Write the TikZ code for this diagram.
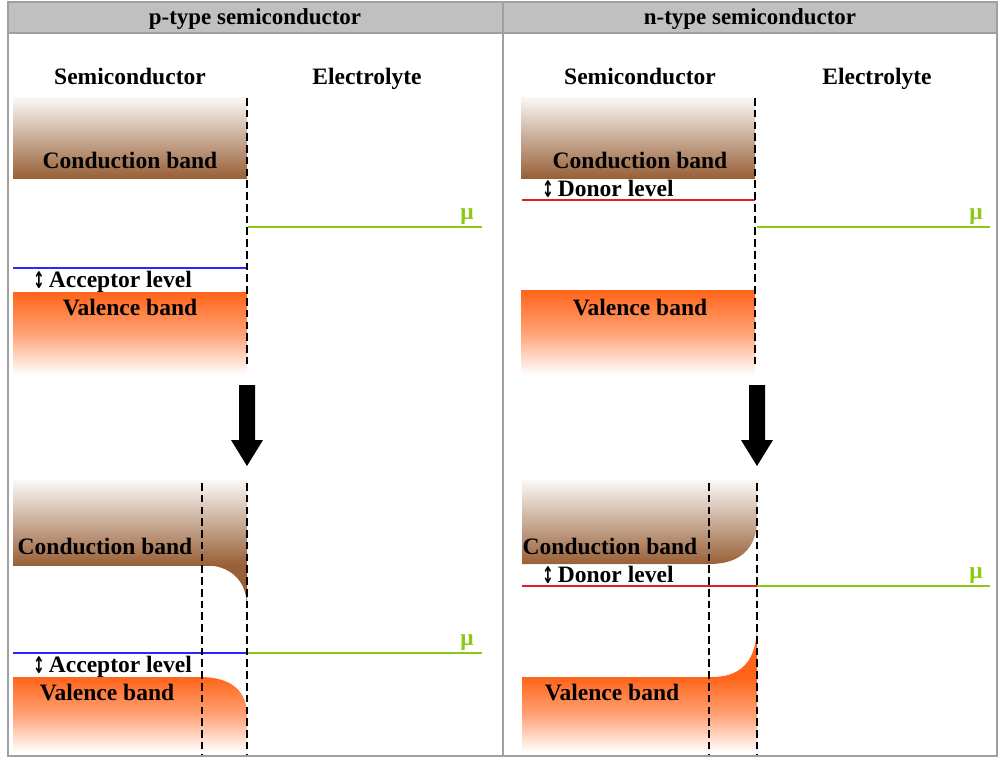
\documentclass[tikz,border=0pt]{standalone}
\usepackage{fontspec}
\usepackage{graphicx}
\setmainfont{Liberation Serif}
\newfontfamily\dejavu{DejaVu Sans}
\usetikzlibrary{arrows.meta}
\definecolor{cbrown}{RGB}{152,96,55}
\definecolor{ctop}{RGB}{250,248,247}
\definecolor{vorange}{RGB}{255,100,25}
\definecolor{mugreen}{RGB}{140,200,20}
\definecolor{accblue}{RGB}{40,40,255}
\definecolor{donred}{RGB}{225,30,40}
\definecolor{framegray}{RGB}{160,160,160}
\definecolor{headgray}{RGB}{192,192,192}
\newcommand\updown{\raisebox{-1.5pt}{\scalebox{0.7}[1.15]{\dejavu\bfseries\fontsize{17}{17}\selectfont↕}}\,}
\tikzset{
  lbl/.style={font=\bfseries\fontsize{20}{22}\selectfont, inner sep=0pt},
  hdr/.style={font=\bfseries\fontsize{19.5}{21}\selectfont, inner sep=0pt},
  mulbl/.style={font=\bfseries\fontsize{20}{22}\selectfont, text=mugreen, inner sep=0pt},
  iface/.style={dashed, dash pattern=on 6.5pt off 3.5pt, line width=1.1pt, black},
  mu/.style={mugreen, line width=1.6pt},
  acc/.style={accblue, line width=1.6pt},
  don/.style={donred, line width=1.6pt},
  cband/.style={top color=ctop, bottom color=cbrown, draw=none},
  vband/.style={top color=vorange, bottom color=white, middle color=vorange!60!white, draw=none},
  bigarrow/.style={fill=black},
}
\begin{document}
\begin{tikzpicture}[x=0.85pt,y=-0.85pt]
\useasboundingbox (0,0) rectangle (1000,758);
% header and frame
\fill[headgray] (8,2) rectangle (997,33);
\draw[framegray, line width=1.3pt] (8,2) rectangle (997,756);
\draw[framegray, line width=1.3pt] (8,33) -- (997,33);
\draw[framegray, line width=1.3pt] (503,2) -- (503,756);
\node[hdr, anchor=base] (hp) at (255,24) {p-type semiconductor};
\node[hdr, anchor=base] (hn) at (750,24) {n-type semiconductor};

% ===== p-type top =====
\node[lbl, anchor=base] (ps) at (130,84) {Semiconductor};
\node[lbl, anchor=base] (pe) at (367,84) {Electrolyte};
\shade[cband] (13,97) rectangle (247,178);
\node[lbl, anchor=base] (pcb) at (130,168) {Conduction band};
\shade[vband] (13,292) rectangle (247,375);
\node[lbl, anchor=base] (pvb) at (130,315) {Valence band};
\coordinate (pa1) at (13,268); \coordinate (pa2) at (247,268);
\draw[acc] (pa1) -- (pa2);
\node[lbl, anchor=base west] (pal) at (33,287) {\updown Acceptor level};
\coordinate (pm1) at (248,227); \coordinate (pm2) at (482,227);
\draw[mu] (pm1) -- (pm2);
\node[mulbl, anchor=base] (pmu) at (467,219) {μ};
\coordinate (pd1) at (247,98); \coordinate (pd2) at (247,368);
\draw[iface] (pd1) -- (pd2);
\fill[bigarrow] (239,385) -- (255,385) -- (255,440) -- (263,440) -- (247,466) -- (231,440) -- (239,440) -- cycle;

% ===== p-type bottom =====
\shade[cband] (13,480) rectangle (247,565);
\fill[cbrown] (203,565) .. controls (232,565) and (247,582) .. (247,607) -- (247,565) -- cycle;
\node[lbl, anchor=base] (pcb2) at (105,554) {Conduction band};
\shade[vband] (13,752) -- (13,677) -- (200,677) .. controls (230,677) and (247,690) .. (247,715) -- (247,752) -- cycle;
\node[lbl, anchor=base] (pvb2) at (107,700) {Valence band};
\coordinate (pb1) at (13,653); \coordinate (pb2) at (247,653); \coordinate (pb3) at (482,653);
\draw[acc] (pb1) -- (pb2);
\draw[mu] (pb2) -- (pb3);
\node[mulbl, anchor=base] (pmu2) at (467,645) {μ};
\node[lbl, anchor=base west] (pal2) at (33,672) {\updown Acceptor level};
\coordinate (pe1) at (202,483); \coordinate (pe2) at (202,755);
\coordinate (pf1) at (247,483); \coordinate (pf2) at (247,755);
\draw[iface] (pe1) -- (pe2);
\draw[iface] (pf1) -- (pf2);

% ===== n-type top =====
\node[lbl, anchor=base] (ns) at (640,84) {Semiconductor};
\node[lbl, anchor=base] (ne) at (877,84) {Electrolyte};
\shade[cband] (521,97) rectangle (755,178);
\node[lbl, anchor=base] (ncb) at (640,168) {Conduction band};
\shade[vband] (521,290) rectangle (755,375);
\node[lbl, anchor=base] (nvb) at (640,315) {Valence band};
\coordinate (nd1) at (522,200); \coordinate (nd2) at (755,200);
\draw[don] (nd1) -- (nd2);
\node[lbl, anchor=base west] (ndl) at (542,196) {\updown Donor level};
\coordinate (nm1) at (757,227); \coordinate (nm2) at (990,227);
\draw[mu] (nm1) -- (nm2);
\node[mulbl, anchor=base] (nmu) at (976,219) {μ};
\coordinate (ni1) at (755,98); \coordinate (ni2) at (755,368);
\draw[iface] (ni1) -- (ni2);
\fill[bigarrow] (749,385) -- (765,385) -- (765,440) -- (773,440) -- (757,466) -- (741,440) -- (749,440) -- cycle;

% ===== n-type bottom =====
\shade[cband] (522,480) -- (757,480) -- (757,520) .. controls (757,548) and (740,564) .. (710,564) -- (522,564) -- cycle;
\node[lbl, anchor=base] (ncb2) at (610,554) {Conduction band};
\shade[vband] (522,677) rectangle (757,752);
\fill[vorange] (712,677) .. controls (742,677) and (757,660) .. (757,625) -- (757,677) -- cycle;
\node[lbl, anchor=base] (nvb2) at (612,700) {Valence band};
\coordinate (ne1) at (522,586); \coordinate (ne2) at (757,586); \coordinate (ne3) at (990,586);
\draw[don] (ne1) -- (ne2);
\draw[mu] (ne2) -- (ne3);
\node[mulbl, anchor=base] (nmu2) at (976,578) {μ};
\node[lbl, anchor=base west] (ndl2) at (542,582) {\updown Donor level};
\coordinate (ng1) at (709,483); \coordinate (ng2) at (709,755);
\coordinate (nh1) at (757,483); \coordinate (nh2) at (757,755);
\draw[iface] (ng1) -- (ng2);
\draw[iface] (nh1) -- (nh2);
\end{tikzpicture}
\end{document}
